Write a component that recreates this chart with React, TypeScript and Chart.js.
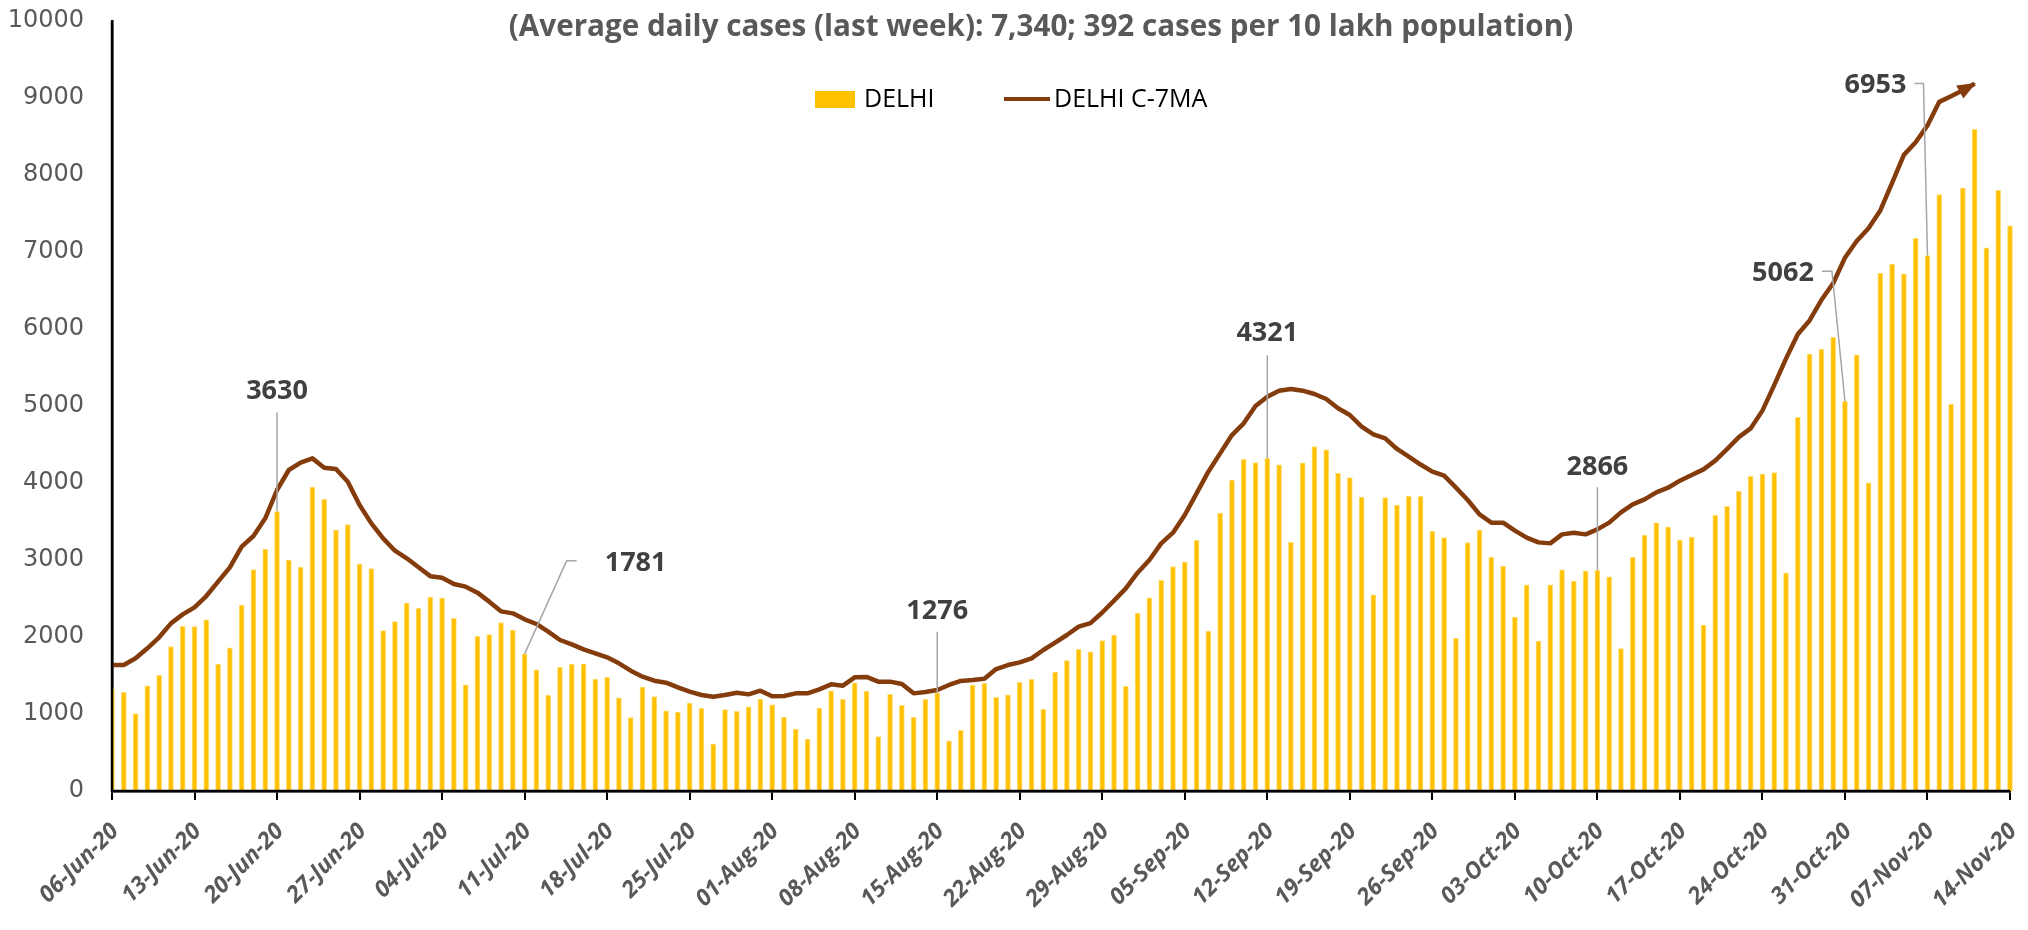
import React, { useEffect, useRef } from 'react';
import { Chart, registerables } from 'chart.js';

Chart.register(...registerables);

// ---------- DATA ----------
const MONTHS = ['Jan', 'Feb', 'Mar', 'Apr', 'May', 'Jun', 'Jul', 'Aug', 'Sep', 'Oct', 'Nov', 'Dec'];
const FIRST_DAY = Date.UTC(2020, 5, 6);
const DAY_COUNT = 162;
const categories: string[] = Array.from({ length: DAY_COUNT }, (_, i) => {
  const d = new Date(FIRST_DAY + i * 86400000);
  return `${String(d.getUTCDate()).padStart(2, '0')}-${MONTHS[d.getUTCMonth()]}-20`;
});

const TITLE = '(Average daily cases (last week): 7,340; 392 cases per 10 lakh population)';
const SERIES_BAR = 'DELHI';
const SERIES_LINE = 'DELHI C-7MA';

const dailyCases = [
  1320, 1282, 1007, 1366, 1501, 1877, 2137, 2134, 2224, 1647,
  1859, 2414, 2877, 3137, 3630, 3000, 2909, 3947, 3788, 3390,
  3460, 2948, 2889, 2084, 2199, 2442, 2373, 2520, 2505, 2244,
  1379, 2008, 2033, 2187, 2089, 1781, 1573, 1246, 1606, 1647,
  1652, 1454, 1475, 1211, 954, 1349, 1227, 1041, 1025, 1142,
  1075, 613, 1056, 1035, 1093, 1195, 1118, 961, 805, 674,
  1076, 1300, 1192, 1404, 1299, 707, 1257, 1113, 956, 1192,
  1276, 652, 787, 1374, 1398, 1215, 1250, 1412, 1450, 1061,
  1544, 1693, 1840, 1808, 1954, 2024, 1358, 2312, 2509, 2737,
  2914, 2973, 3256, 2077, 3609, 4039, 4308, 4266, 4321, 4235,
  3229, 4263, 4473, 4432, 4127, 4071, 3816, 2548, 3812, 3714,
  3827, 3827, 3372, 3292, 1984, 3227, 3390, 3037, 2920, 2258,
  2677, 1947, 2676, 2871, 2726, 2860, 2866, 2780, 1849, 3036,
  3324, 3483, 3431, 3259, 3299, 2154, 3579, 3696, 3891, 4086,
  4116, 4136, 2832, 4853, 5673, 5739, 5891, 5062, 5664, 4001,
  6725, 6842, 6715, 7178, 6953, 7745, 5023, 7830, 8593, 7053,
  7802, 7340,
];

const movingAvg = [
  1636, 1636, 1723, 1853, 1996, 2177, 2294, 2385, 2532, 2719,
  2905, 3173, 3312, 3541, 3909, 4169, 4264, 4320, 4199, 4182,
  4017, 3714, 3476, 3281, 3121, 3022, 2905, 2790, 2770, 2688,
  2654, 2576, 2459, 2333, 2307, 2229, 2169, 2069, 1961, 1905,
  1840, 1788, 1736, 1658, 1563, 1485, 1433, 1407, 1346, 1290,
  1247, 1225, 1247, 1277, 1255, 1303, 1230, 1234, 1268, 1268,
  1320, 1385, 1368, 1476, 1481, 1420, 1420, 1390, 1268, 1286,
  1312, 1377, 1429, 1442, 1459, 1584, 1636, 1671, 1723, 1831,
  1926, 2026, 2134, 2180, 2318, 2472, 2632, 2835, 3000, 3216,
  3355, 3584, 3866, 4147, 4385, 4623, 4775, 5000, 5121, 5199,
  5221, 5199, 5156, 5091, 4970, 4883, 4732, 4632, 4580, 4442,
  4342, 4240, 4147, 4095, 3939, 3779, 3593, 3485, 3485, 3381,
  3290, 3229, 3216, 3333, 3355, 3333, 3398, 3485, 3619, 3723,
  3788, 3879, 3939, 4030, 4104, 4177, 4290, 4440, 4596, 4709,
  4940, 5271, 5615, 5932, 6111, 6376, 6594, 6925, 7143, 7308,
  7540, 7897, 8261, 8426, 8644, 8950, 9024, 9100, 9185,
];

// days whose bar value is called out
const calloutDays = [14, 35, 70, 98, 126, 147, 154];

// ---------- STYLE ----------
const BAR_COLOR = '#FFC000';
const BAR_EDGE = '#FFDD75';
const LINE_COLOR = '#843C0C';
const AXIS_TEXT = '#595959';
const LABEL_TEXT = '#404040';
const LEADER = '#A6A6A6';

// label placement relative to the bar top (px): text centre and leader polyline
const calloutLayout: Record<number, { dx: number; dy: number; leader: number[][] }> = {
  14: { dx: 0, dy: -120, leader: [[0, -99], [0, 0]] },
  35: { dx: 111, dy: -91, leader: [[0, 0], [42, -93], [52, -93]] },
  70: { dx: 0, dy: -81, leader: [[0, -61], [0, 0]] },
  98: { dx: 0, dy: -125, leader: [[0, -103], [0, 0]] },
  126: { dx: 0, dy: -103, leader: [[0, -83], [0, 0]] },
  147: { dx: -62, dy: -128, leader: [[-23, -130], [-13, -130], [0, 0]] },
  154: { dx: -52, dy: -170, leader: [[-13, -172], [-4, -172], [0, 0]] },
};

const decorPlugin = {
  id: 'decor',
  afterDatasetsDraw(chart: any) {
    const { ctx, scales, chartArea } = chart;
    const xs = scales.x;
    const ys = scales.y;

    // axis lines on top of the bars
    ctx.save();
    ctx.strokeStyle = '#000';
    ctx.lineWidth = 2.5;
    ctx.beginPath();
    ctx.moveTo(chartArea.left, chartArea.top);
    ctx.lineTo(chartArea.left, chartArea.bottom);
    ctx.lineTo(chartArea.right, chartArea.bottom);
    ctx.stroke();
    ctx.restore();

    // arrow head at the end of the moving-average line
    const meta = chart.getDatasetMeta(1);
    const pts = meta.data;
    const last = pts[pts.length - 1];
    const prev = pts[pts.length - 2];
    if (last && prev) {
      const a = Math.atan2(last.y - prev.y, last.x - prev.x);
      const L = 17;
      const W = 7.5;
      const bx = last.x - L * Math.cos(a);
      const by = last.y - L * Math.sin(a);
      ctx.save();
      ctx.fillStyle = LINE_COLOR;
      ctx.beginPath();
      ctx.moveTo(last.x + 1.5 * Math.cos(a), last.y + 1.5 * Math.sin(a));
      ctx.lineTo(bx + W * Math.sin(a), by - W * Math.cos(a));
      ctx.lineTo(bx - W * Math.sin(a), by + W * Math.cos(a));
      ctx.closePath();
      ctx.fill();
      ctx.restore();
    }

    // callouts
    ctx.save();
    ctx.font = 'bold 27px "Open Sans"';
    ctx.textAlign = 'center';
    ctx.textBaseline = 'middle';
    calloutDays.forEach((day) => {
      const lay = calloutLayout[day];
      const bx = xs.getPixelForValue(day);
      const by = ys.getPixelForValue(dailyCases[day]);
      ctx.strokeStyle = LEADER;
      ctx.lineWidth = 1.5;
      ctx.beginPath();
      lay.leader.forEach((p, i) => {
        if (i === 0) ctx.moveTo(bx + p[0], by + p[1]);
        else ctx.lineTo(bx + p[0], by + p[1]);
      });
      ctx.stroke();
      ctx.fillStyle = LABEL_TEXT;
      ctx.fillText(String(dailyCases[day]), bx + lay.dx, by + lay.dy);
    });
    ctx.restore();
  },
  afterDraw(chart: any) {
    const { ctx } = chart;
    ctx.save();
    // title, fitted to the reference width
    ctx.font = 'bold 100px "Open Sans"';
    const w100 = ctx.measureText(TITLE).width;
    const size = (100 * 1065) / w100;
    ctx.font = `bold ${size.toFixed(2)}px "Open Sans"`;
    ctx.fillStyle = AXIS_TEXT;
    ctx.textAlign = 'center';
    ctx.textBaseline = 'middle';
    ctx.fillText(TITLE, 1041, 28);

    // legend
    const ly = 99;
    ctx.fillStyle = BAR_COLOR;
    ctx.fillRect(815, ly - 8, 40, 17);
    ctx.font = '25px "Open Sans"';
    ctx.fillStyle = '#000';
    ctx.textAlign = 'left';
    ctx.fillText(chart.data.datasets[0].label, 864, ly + 1);
    ctx.strokeStyle = LINE_COLOR;
    ctx.lineWidth = 4;
    ctx.beginPath();
    ctx.moveTo(1004, ly);
    ctx.lineTo(1050, ly);
    ctx.stroke();
    ctx.fillText(chart.data.datasets[1].label, 1054, ly + 1);
    ctx.restore();
  },
};

export default function App() {
  const ref = useRef<HTMLCanvasElement>(null);

  useEffect(() => {
    document.body.style.margin = '0';
    document.documentElement.style.overflow = 'hidden';
    const chart = new Chart(ref.current as HTMLCanvasElement, {
      type: 'bar',
      data: {
        labels: categories,
        datasets: [
          {
            type: 'bar',
            label: SERIES_BAR,
            data: dailyCases,
            backgroundColor: BAR_COLOR,
            borderColor: BAR_EDGE,
            borderWidth: 1,
            barThickness: 5,
            order: 2,
            clip: { left: 0, top: false, right: false, bottom: 0 } as any,
          },
          {
            type: 'line',
            label: SERIES_LINE,
            data: movingAvg,
            borderColor: LINE_COLOR,
            backgroundColor: LINE_COLOR,
            borderWidth: 4.5,
            pointRadius: 0,
            tension: 0,
            borderCapStyle: 'butt',
            borderJoinStyle: 'round',
            order: 1,
            clip: false as any,
          },
        ],
      },
      options: {
        responsive: false,
        animation: false,
        devicePixelRatio: 1,
        layout: { padding: { top: 21, right: 18, bottom: 0, left: 0 }, autoPadding: false },
        plugins: {
          legend: { display: false },
          tooltip: { enabled: false },
          title: { display: false },
        },
        scales: {
          x: {
            type: 'category',
            offset: false,
            grid: {
              display: true,
              drawOnChartArea: false,
              drawTicks: true,
              tickLength: 9,
              offset: false,
              lineWidth: 2,
              color: (c: any) => (c.index % 7 === 0 ? '#000' : 'rgba(0,0,0,0)'),
            },
            border: { display: true, color: '#000', width: 2.5 },
            ticks: {
              autoSkip: false,
              minRotation: 45,
              maxRotation: 45,
              padding: 18,
              labelOffset: 3,
              color: AXIS_TEXT,
              font: { family: '"Open Sans"', size: 23, weight: 'bold', style: 'italic' },
              callback: (_v: any, i: number) => (i % 7 === 0 ? categories[i] : ''),
            },
            afterFit: (s: any) => {
              s.height = 139;
              s.paddingLeft = 0;
              s.paddingRight = 0;
            },
          },
          y: {
            min: 0,
            max: 10000,
            grid: { display: false, drawTicks: false },
            border: { display: true, color: '#000', width: 2.5 },
            ticks: {
              stepSize: 1000,
              padding: 28,
              color: AXIS_TEXT,
              font: { family: '"DejaVu Sans"', size: 24 },
              callback: (v: any) => String(v),
            },
            afterFit: (s: any) => {
              s.width = 112;
              s.paddingTop = 0;
              s.paddingBottom = 0;
            },
          },
        },
      },
      plugins: [decorPlugin],
    } as any);
    return () => chart.destroy();
  }, []);

  return (
    <div style={{ width: 2028, height: 930 }}>
      <canvas ref={ref} width={2028} height={930} style={{ display: 'block' }} />
    </div>
  );
}
